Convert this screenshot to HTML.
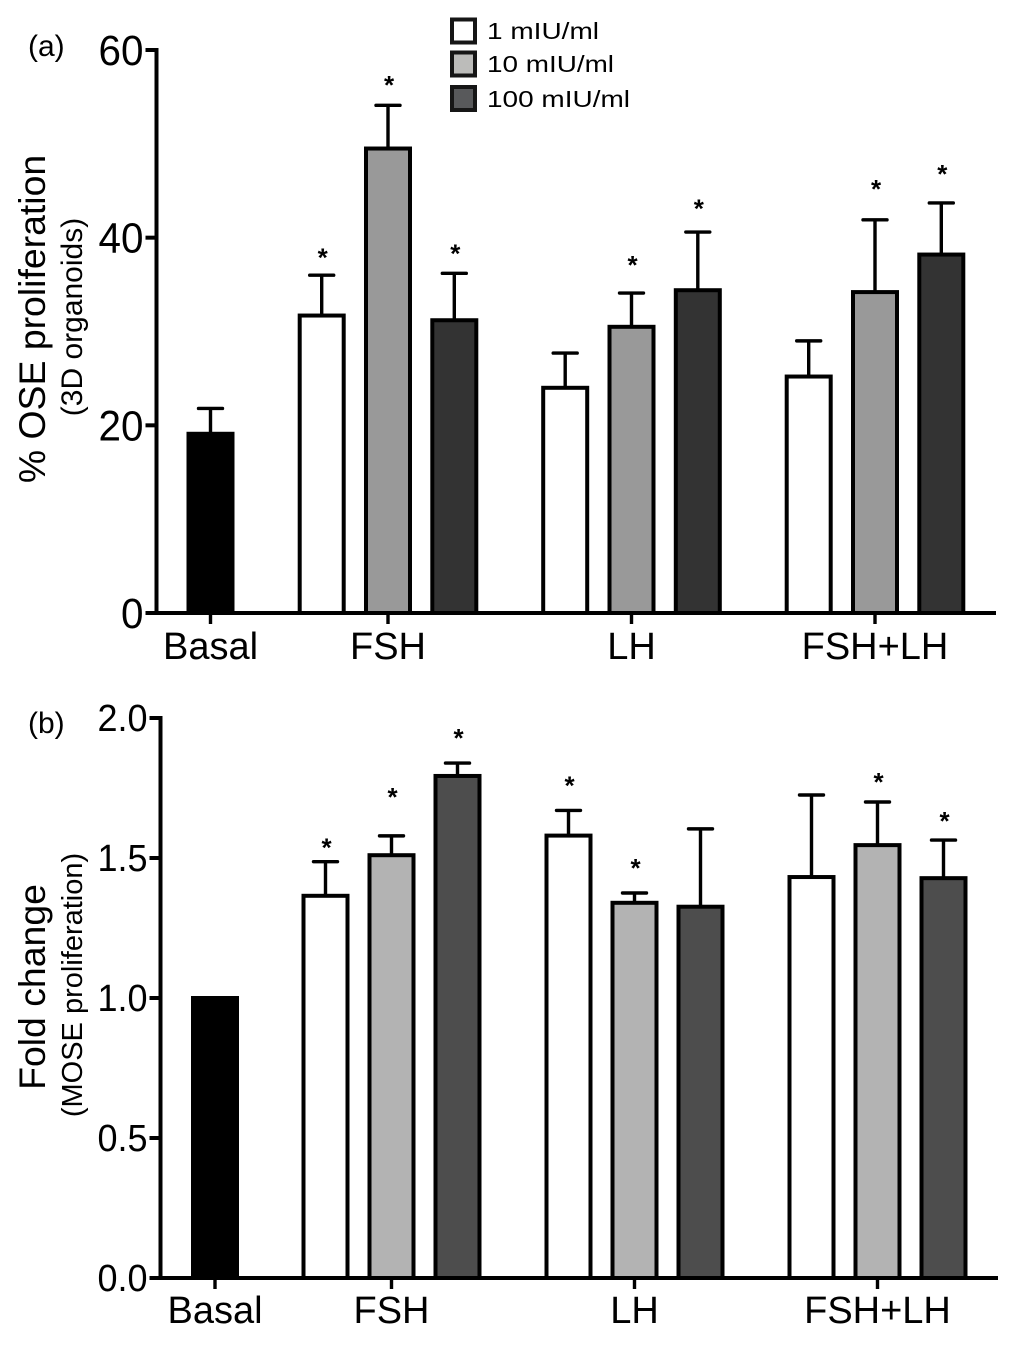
<!DOCTYPE html>
<html lang="en">
<head>
<meta charset="utf-8">
<title>OSE and MOSE proliferation</title>
<style>
  html, body { margin: 0; padding: 0; background: #fff; }
  svg { display: block; font-family: "Liberation Sans", Arial, sans-serif; fill: #000; }
</style>
</head>
<body>
<svg id="figure" xmlns="http://www.w3.org/2000/svg" width="1024" height="1347" viewBox="0 0 1024 1347">
  <rect x="0" y="0" width="1024" height="1347" fill="#fff"/>
  <text x="28" y="56" font-size="30">(a)</text>
  <text x="28" y="733" font-size="30">(b)</text>

  <g>
    <rect x="452" y="19.5" width="23" height="23" fill="#fff" stroke="#161616" stroke-width="4"/>
    <text x="487" y="39" font-size="23" textLength="112" lengthAdjust="spacingAndGlyphs">1 mIU/ml</text>
    <rect x="452" y="52.5" width="23" height="23" fill="#bcbcba" stroke="#161616" stroke-width="4"/>
    <text x="487" y="72" font-size="23" textLength="127" lengthAdjust="spacingAndGlyphs">10 mIU/ml</text>
    <rect x="452" y="87" width="23" height="23" fill="#58595b" stroke="#161616" stroke-width="4"/>
    <text x="487" y="107" font-size="23" textLength="143" lengthAdjust="spacingAndGlyphs">100 mIU/ml</text>
  </g>

  <g>
    <text transform="translate(45 319) rotate(-90)" text-anchor="middle" font-size="37.4">% OSE proliferation</text>
    <text transform="translate(82 317) rotate(-90)" text-anchor="middle" font-size="30">(3D organoids)</text>
  </g>
  <g>
    <text transform="translate(45 987) rotate(-90)" text-anchor="middle" font-size="37.4">Fold change</text>
    <text transform="translate(82 985) rotate(-90)" text-anchor="middle" font-size="29">(MOSE proliferation)</text>
  </g>
  <g id="panel-a"></g>
  <g id="panel-b"></g>
</svg>
<script>
// Shared categories
const categories = ["Basal", "FSH", "LH", "FSH+LH"];
const doses = ["1 mIU/ml", "10 mIU/ml", "100 mIU/ml"];

// Panel (a): % OSE proliferation
const tickValuesA = [0, 20, 40, 60];
const tickLabelsA = ["0", "20", "40", "60"];
const basalMeanA = 19.1;
const basalErrorA = 2.7;
const fshMeansA = [31.7, 49.5, 31.2];
const fshErrorsA = [4.3, 4.6, 5.0];
const fshStarGapsA = [2.0, 2.3, 2.2];
const lhMeansA = [24.0, 30.5, 34.4];
const lhErrorsA = [3.7, 3.6, 6.2];
const lhStarGapsA = [null, 3.1, 2.6];
const comboMeansA = [25.2, 34.2, 38.2];
const comboErrorsA = [3.8, 7.7, 5.5];
const comboStarGapsA = [null, 3.4, 3.2];

// Panel (b): fold change
const tickValuesB = [0, 0.5, 1, 1.5, 2];
const tickLabelsB = ["0.0", "0.5", "1.0", "1.5", "2.0"];
const basalMeanB = 1.0;
const basalErrorB = 0;
const fshMeansB = [1.365, 1.51, 1.793];
const fshErrorsB = [0.122, 0.069, 0.046];
const fshStarGapsB = [0.054, 0.143, 0.093];
const lhMeansB = [1.58, 1.34, 1.326];
const lhErrorsB = [0.09, 0.035, 0.278];
const lhStarGapsB = [0.093, 0.093, null];
const comboMeansB = [1.432, 1.546, 1.428];
const comboErrorsB = [0.293, 0.154, 0.136];
const comboStarGapsB = [null, 0.075, 0.071];

const SVG_NS = "http://www.w3.org/2000/svg";

function make(parent, tag, attrs) {
  const el = document.createElementNS(SVG_NS, tag);
  for (const key in attrs) el.setAttribute(key, attrs[key]);
  parent.appendChild(el);
  return el;
}

function drawPanel(root, cfg) {
  const yScale = v => cfg.y0 - (v / cfg.yMax) * (cfg.y0 - cfg.yTop);
  const groupCenter = g => g === 0 ? cfg.basalX : cfg.firstGroupX + (g - 1) * cfg.groupStep;
  const barCenter = (g, s) => g === 0 ? cfg.basalX : groupCenter(g) + (s - 1) * cfg.barStep;

  function drawBar(label, cx, mean, err, gap, fill) {
    const group = make(root, "g", {});
    
    
    if (err > 0) {
      const stem = make(group, "line", { x1: cx, x2: cx, y1: yScale(mean), y2: yScale(mean + err), stroke: "#000", "stroke-width": 3.4 });
      
      
      const cap = make(group, "line", { x1: cx - cfg.capHalf, x2: cx + cfg.capHalf, y1: yScale(mean + err), y2: yScale(mean + err), stroke: "#000", "stroke-width": 3.4, "stroke-linecap": "round" });
      
      
    }
    const rect = make(group, "rect", { x: cx - cfg.barHalf, y: yScale(mean), width: cfg.barHalf * 2, height: cfg.y0 - yScale(mean), fill: fill, stroke: "#000", "stroke-width": 4 });
    
    
    if (gap !== null && gap !== undefined) {
      const star = make(group, "text", { x: cx + 1, y: yScale(mean + err + gap) + 10, "text-anchor": "middle", "font-size": 26, "font-weight": "bold" });
      star.textContent = "*";
      
      
    }
  }

  drawBar("basal", barCenter(0, 0), cfg.basalMean, cfg.basalError, null, "#000");
  for (let g = 1; g < categories.length; g++) {
    for (let s = 0; s < doses.length; s++) {
      drawBar(categories[g] + "-" + s, barCenter(g, s), cfg.means[g - 1][s], cfg.errors[g - 1][s], cfg.gaps[g - 1][s], cfg.fills[s]);
    }
  }

  const yAxis = make(root, "line", { x1: cfg.axisX, x2: cfg.axisX, y1: cfg.yTop - 2, y2: cfg.y0 + 2, stroke: "#000", "stroke-width": 4 });
  
  
  const xAxis = make(root, "line", { x1: cfg.axisX - 11, x2: cfg.axisEnd, y1: cfg.y0, y2: cfg.y0, stroke: "#000", "stroke-width": 4 });
  
  

  cfg.tickValues.forEach((v, i) => {
    const tick = make(root, "line", { x1: cfg.axisX - 11, x2: cfg.axisX, y1: yScale(v), y2: yScale(v), stroke: "#000", "stroke-width": 4 });
    
    
    const label = make(root, "text", { transform: "translate(" + (cfg.axisX - 13) + " " + (yScale(v) + cfg.tickDrop) + ") scale(" + cfg.tickSqueeze + " 1)", "text-anchor": "end", "font-size": cfg.tickFont });
    label.textContent = cfg.tickLabels[i];
    
    
  });

  categories.forEach((c, g) => {
    const cx = groupCenter(g);
    const tick = make(root, "line", { x1: cx, x2: cx, y1: cfg.y0, y2: cfg.y0 + 11, stroke: "#000", "stroke-width": 3.4 });
    
    
    const label = make(root, "text", { x: cx, y: cfg.labelY, "text-anchor": "middle", "font-size": 38 });
    label.textContent = c;
    
    
  });
}

drawPanel(document.getElementById("panel-a"), {
  y0: 613, yTop: 50, yMax: 60, axisX: 156.5, axisEnd: 996, labelY: 659,
  tickFont: 43, tickSqueeze: 0.94, tickDrop: 15,
  basalX: 210.5, firstGroupX: 388, groupStep: 243.5, barStep: 66.3, barHalf: 22, capHalf: 12,
  fills: ["#fff", "#999999", "#333333"],
  basalMean: basalMeanA, basalError: basalErrorA,
  tickValues: tickValuesA, tickLabels: tickLabelsA,
  means: [fshMeansA, lhMeansA, comboMeansA],
  errors: [fshErrorsA, lhErrorsA, comboErrorsA],
  gaps: [fshStarGapsA, lhStarGapsA, comboStarGapsA]
});

drawPanel(document.getElementById("panel-b"), {
  y0: 1278, yTop: 718, yMax: 2, axisX: 160.5, axisEnd: 998, labelY: 1323,
  tickFont: 38, tickSqueeze: 0.947, tickDrop: 13,
  basalX: 215, firstGroupX: 391.5, groupStep: 243, barStep: 66, barHalf: 22, capHalf: 12,
  fills: ["#fff", "#b3b3b3", "#4d4d4d"],
  basalMean: basalMeanB, basalError: basalErrorB,
  tickValues: tickValuesB, tickLabels: tickLabelsB,
  means: [fshMeansB, lhMeansB, comboMeansB],
  errors: [fshErrorsB, lhErrorsB, comboErrorsB],
  gaps: [fshStarGapsB, lhStarGapsB, comboStarGapsB]
});
</script>
</body>
</html>
